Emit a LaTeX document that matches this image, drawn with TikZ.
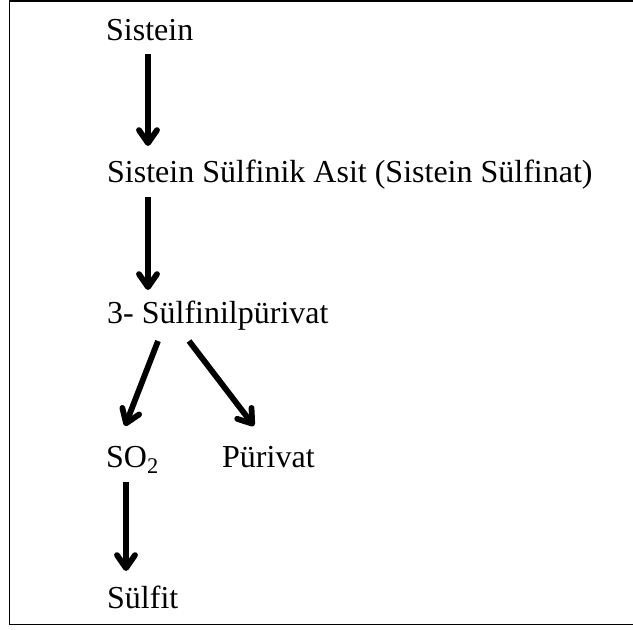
\documentclass[tikz,border=0pt]{standalone}
\usepackage{fontspec}
\setmainfont{Liberation Serif}[Ligatures=NoCommon]
\usetikzlibrary{arrows.meta}
\begin{document}
\begin{tikzpicture}[x=1pt,y=-1pt,
  lbl/.style={anchor=base west,inner sep=0pt,font=\fontsize{32}{36}\selectfont},
  arr/.style={line width=5.8pt,-{Straight Barb[length=13pt,width=18pt,line width=5.8pt,round]}}]
\useasboundingbox (0,0) rectangle (633,630);
\draw[line width=1.5pt] (633,1) -- (9.5,1) -- (9.5,624.5) -- (633,624.5);
\node[lbl] (a) at (106,40) {Sistein};
\node[lbl] (b) at (107,182) {Sistein Sülfinik Asit (Sistein Sülfinat)};
\node[lbl] (c) at (107,323) {3- Sülfinilpürivat};
\node[lbl] (d) at (106,467) {SO\textsubscript{2}};
\node[lbl] (e) at (222,467) {Pürivat};
\node[lbl] (f) at (107,608) {Sülfit};
\coordinate (a1) at (148,54);
\coordinate (a2) at (148,146);
\coordinate (b1) at (148,197);
\coordinate (b2) at (148,290);
\coordinate (c1) at (158,341);
\coordinate (c2) at (125,426);
\coordinate (c3) at (189,341);
\coordinate (c4) at (254,426);
\coordinate (d1) at (126,482);
\coordinate (d2) at (126,571);
\draw[arr] (a1) -- (a2);
\draw[arr] (b1) -- (b2);
\draw[arr] (c1) -- (c2);
\draw[arr] (c3) -- (c4);
\draw[arr] (d1) -- (d2);
\end{tikzpicture}
\end{document}
